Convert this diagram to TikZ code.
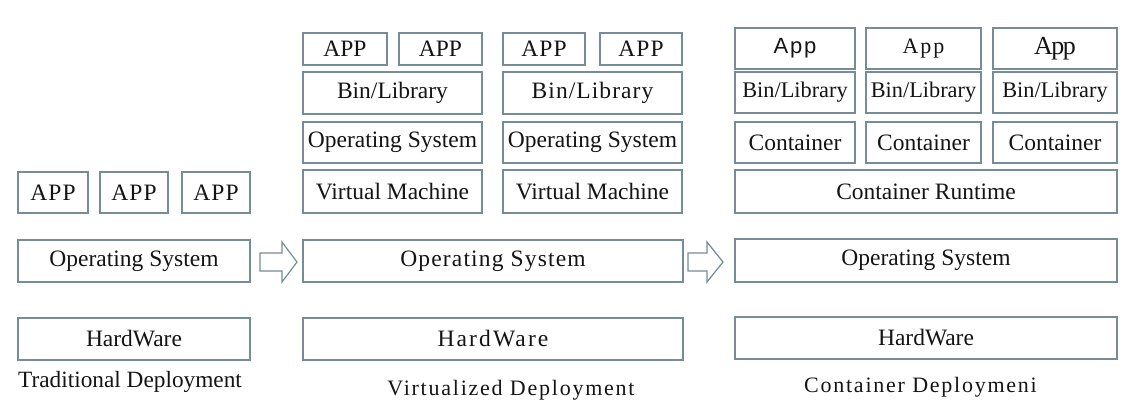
\documentclass[tikz,border=0pt]{standalone}
\usepackage{fontspec}
\setmainfont{Liberation Serif}
\newfontfamily\spacedA[LetterSpace=8]{Liberation Serif}
\newfontfamily\spacedB[LetterSpace=9]{Liberation Serif}
\newfontfamily\spacedC[LetterSpace=5]{Liberation Serif}
\newfontfamily\spacedD[LetterSpace=4.5]{Liberation Serif}
\newfontfamily\appsans{Liberation Sans}
\newfontfamily\apptight[LetterSpace=-6]{Liberation Serif}
\definecolor{edge}{RGB}{118,140,152}
\definecolor{ink}{RGB}{20,20,20}
\begin{document}
\begin{tikzpicture}[x=1pt,y=-1pt,
  box/.style={draw=edge, line width=1.2pt, rectangle, inner sep=0pt, text=ink,
    font=\fontsize{23.5}{27}\selectfont},
  smallbox/.style={box, font=\fontsize{22.3}{26}\selectfont},
  lbl/.style={inner sep=0pt, text=ink, font=\fontsize{22}{26}\selectfont},
  blockarrow/.style={draw=edge, line width=1.2pt, fill=white, line join=miter}]
\useasboundingbox (0,0) rectangle (1142,400);
% ---------- Traditional ----------
\node[box, minimum width=70, minimum height=41] (la1) at (53,192.5) {\spacedC APP};
\node[box, minimum width=68, minimum height=41] (la2) at (134,192.5) {\spacedC APP};
\node[box, minimum width=68, minimum height=41] (la3) at (216,192.5) {\spacedC APP};
\node[box, minimum width=232, minimum height=42] (los) at (134,261) {Operating System};
\node[box, minimum width=232, minimum height=42] (lhw) at (134,339) {HardWare};
\node[lbl, anchor=west, font=\fontsize{23.3}{27}\selectfont] (ltitle) at (18,382) {Traditional Deployment};
% ---------- Virtualized ----------
\node[box, minimum width=84, minimum height=32] (ma1) at (345,49) {APP};
\node[box, minimum width=83, minimum height=32] (ma2) at (440.5,49) {APP};
\node[box, minimum width=82, minimum height=32] (ma3) at (544,49) {\spacedC APP};
\node[box, minimum width=82, minimum height=32] (ma4) at (641,49) {\spacedC APP};
\node[box, minimum width=179, minimum height=42] (mb1) at (392.5,93) {Bin/Library};
\node[box, minimum width=179, minimum height=42] (mb2) at (592.5,93) {\spacedD Bin/Library};
\node[box, minimum width=179, minimum height=41] (mo1) at (392.5,142.5) {Operating System};
\node[box, minimum width=179, minimum height=41] (mo2) at (592.5,142.5) {Operating System};
\node[box, minimum width=179, minimum height=43] (mv1) at (392.5,191.5) {Virtual Machine};
\node[box, minimum width=179, minimum height=43] (mv2) at (592.5,191.5) {Virtual Machine};
\node[box, minimum width=380, minimum height=42] (mos) at (493,261) {\spacedC Operating System};
\node[box, minimum width=380, minimum height=42] (mhw) at (493,339) {\spacedB HardWare};
\node[lbl, anchor=north] (mtitle) at (511,380) {\spacedA Virtualized Deployment};
% ---------- Container ----------
\node[box, minimum width=120, minimum height=41] (ra1) at (795,48.5) {\fontsize{22}{26}\selectfont\appsans\addfontfeature{LetterSpace=8}App};
\node[box, minimum width=115, minimum height=41] (ra2) at (923.5,48.5) {\fontsize{22}{26}\selectfont\spacedB App};
\node[box, minimum width=124, minimum height=41] (ra3) at (1055,48.5) {\fontsize{26}{29}\selectfont\apptight App};
\node[smallbox, minimum width=120, minimum height=41] (rb1) at (795,92.5) {Bin/Library};
\node[smallbox, minimum width=115, minimum height=41] (rb2) at (923.5,92.5) {Bin/Library};
\node[smallbox, minimum width=124, minimum height=41] (rb3) at (1055,92.5) {Bin/Library};
\node[box, minimum width=120, minimum height=41] (rc1) at (795,142.5) {Container};
\node[box, minimum width=115, minimum height=41] (rc2) at (923.5,142.5) {Container};
\node[box, minimum width=124, minimum height=41] (rc3) at (1055,142.5) {Container};
\node[box, minimum width=382, minimum height=43] (rrt) at (926,191.5) {Container Runtime};
\node[box, minimum width=382, minimum height=43] (ros) at (926,260.5) {Operating System};
\node[box, minimum width=382, minimum height=42] (rhw) at (926,338) {HardWare};
\node[lbl] (rtitle) at (920.5,387) {\spacedA Container Deploymeni};
% ---------- block arrows ----------
\draw[blockarrow] (260,253) -- (282,253) -- (282,242) -- (297,262) -- (282,282)
  -- (282,271) -- (260,271) -- cycle;
\draw[blockarrow] (688,253) -- (707,253) -- (707,242) -- (723,262) -- (707,282)
  -- (707,271) -- (688,271) -- cycle;
\end{tikzpicture}
\end{document}
